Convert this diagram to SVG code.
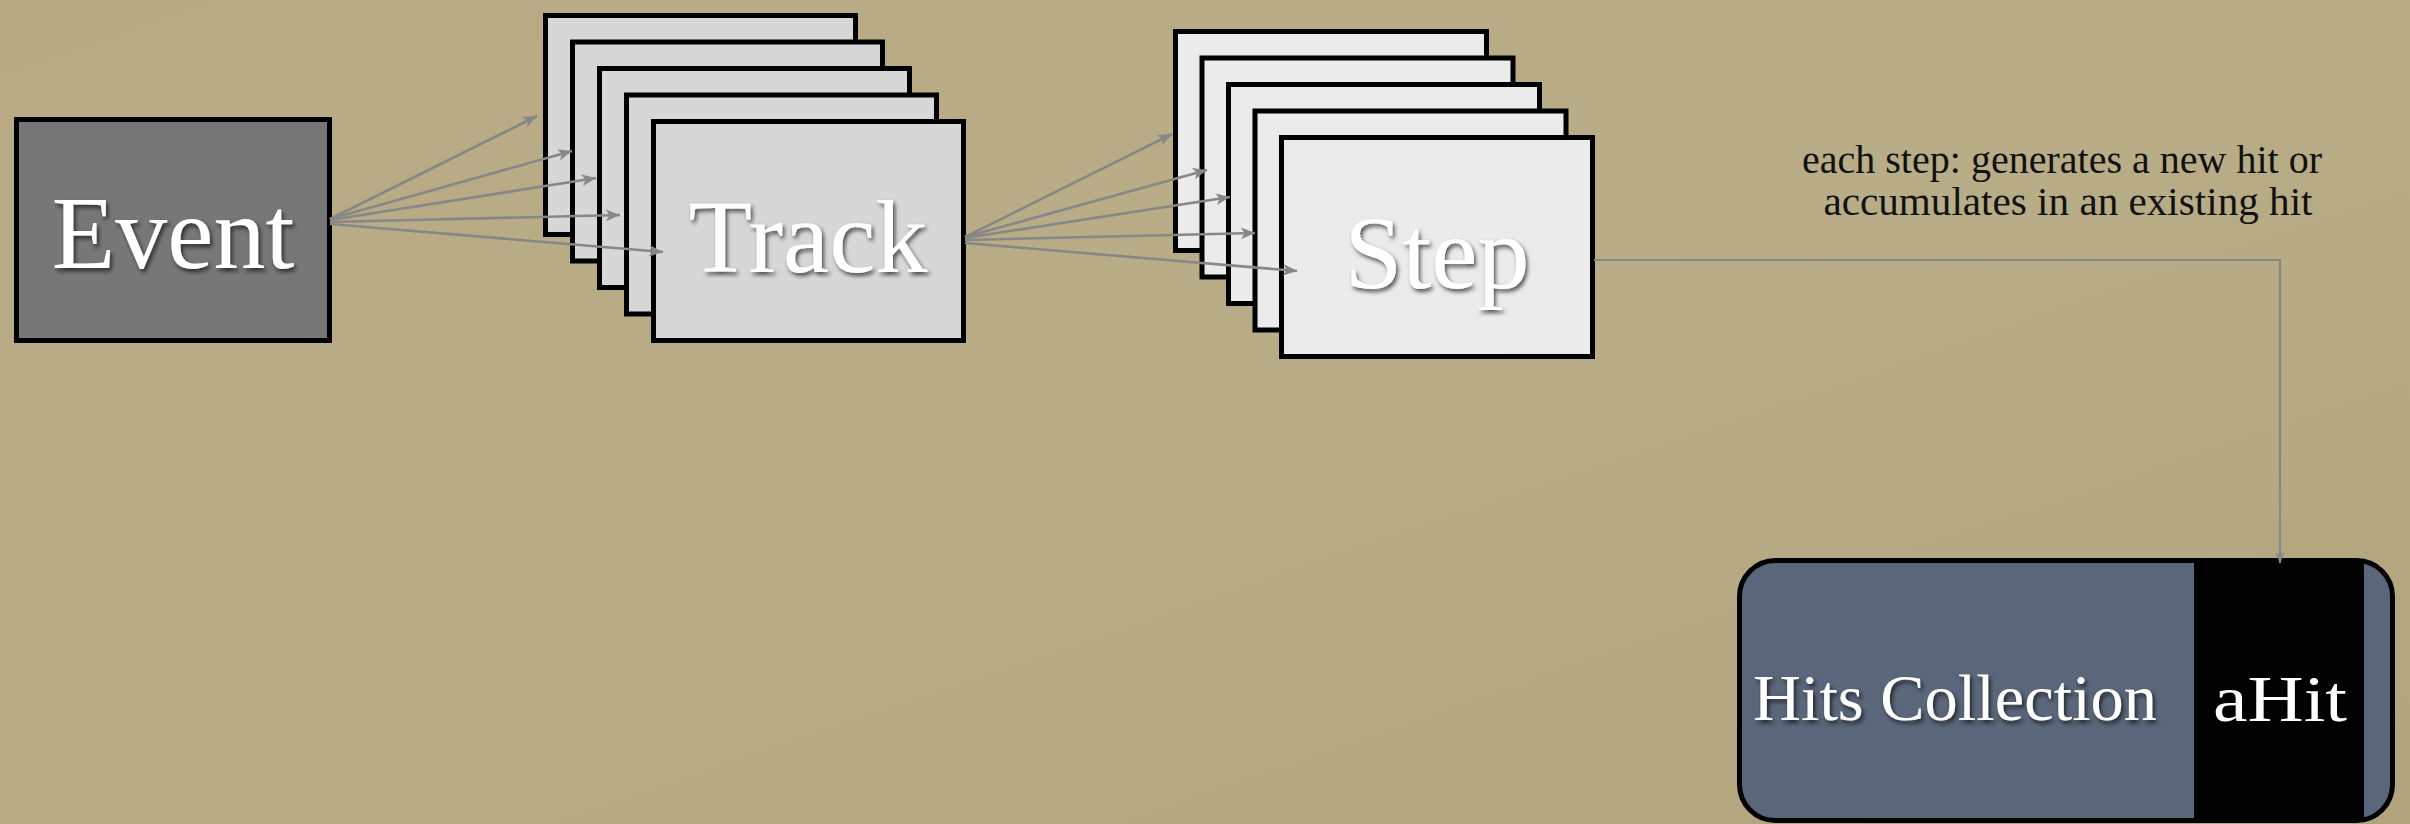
<svg xmlns="http://www.w3.org/2000/svg" width="2410" height="824" viewBox="0 0 2410 824">
  <defs>
    <linearGradient id="bg" x1="0" y1="0" x2="1" y2="1">
      <stop offset="0" stop-color="#b7aa84"/>
      <stop offset="0.5" stop-color="#b9ad87"/>
      <stop offset="1" stop-color="#b1a47d"/>
    </linearGradient>
    <filter id="tshadow" x="-10%" y="-20%" width="130%" height="150%">
      <feDropShadow dx="2" dy="3" stdDeviation="2" flood-color="#000" flood-opacity="0.65"/>
    </filter>
    <marker id="arr" viewBox="0 0 12 10" refX="12" refY="5" markerWidth="14" markerHeight="12" markerUnits="userSpaceOnUse" orient="auto">
      <path d="M0,0 L12,5 L0,10 L3,5 z" fill="#878787"/>
    </marker>
    <marker id="arr2" viewBox="0 0 12 10" refX="12" refY="5" markerWidth="11" markerHeight="9" markerUnits="userSpaceOnUse" orient="auto">
      <path d="M0,0 L12,5 L0,10 L3,5 z" fill="#878787"/>
    </marker>
  </defs>
  <style>
    .box { stroke: #000; stroke-width: 5; }
    .ev { fill: #777777; }
    .tr { fill: #d7d7d7; }
    .st { fill: #ebebeb; }
    .big { font-family: "Liberation Serif", "DejaVu Serif", serif; font-size: 104px; fill: #fff; text-anchor: middle; filter: url(#tshadow); }
    .mid { font-family: "Liberation Serif", "DejaVu Serif", serif; font-size: 66px; fill: #fff; text-anchor: middle; }
    .note { font-family: "Liberation Serif", "DejaVu Serif", serif; font-size: 40px; fill: #111; text-anchor: middle; }
    .link { fill: none; stroke: #878787; stroke-width: 2.6; }
    .link2 { fill: none; stroke: #878787; stroke-width: 2.2; }
  </style>

  <rect x="0" y="0" width="2410" height="824" fill="url(#bg)"/>

  <g id="event">
    <rect class="box ev" x="16.5" y="119.5" width="313" height="221"/>
    <text class="big" x="173" y="268">Event</text>
  </g>

  <g id="track-stack">
    <rect class="box tr" x="545.5" y="15.5" width="310" height="219"/>
    <rect class="box tr" x="572.5" y="42" width="310" height="219"/>
    <rect class="box tr" x="599.5" y="68.5" width="310" height="219"/>
    <rect class="box tr" x="626.5" y="95" width="310" height="219"/>
    <rect class="box tr" x="653.5" y="121.5" width="310" height="219"/>
    <text class="big" x="808" y="272">Track</text>
  </g>

  <g id="step-stack">
    <rect class="box st" x="1175.5" y="31.5" width="311" height="219"/>
    <rect class="box st" x="1202" y="58" width="311" height="219"/>
    <rect class="box st" x="1228.5" y="84.5" width="311" height="219"/>
    <rect class="box st" x="1255" y="111" width="311" height="219"/>
    <rect class="box st" x="1281.5" y="137.5" width="311" height="219"/>
    <text class="big" x="1437" y="288">Step</text>
  </g>

  <g id="note">
    <text class="note" x="2062" y="173" textLength="520" lengthAdjust="spacingAndGlyphs">each step: generates a new hit or</text>
    <text class="note" x="2068" y="215" textLength="489" lengthAdjust="spacingAndGlyphs">accumulates in an existing hit</text>
  </g>

  <g id="hits-collection">
    <rect x="1739.5" y="560.5" width="653" height="260" rx="36" fill="#5a6679"/>
    <rect x="2194" y="560" width="170" height="261" fill="#000"/>
    <rect x="1739.5" y="560.5" width="653" height="260" rx="36" fill="none" stroke="#000" stroke-width="5"/>
    <text class="mid" x="1955" y="720" textLength="404" lengthAdjust="spacingAndGlyphs" filter="url(#tshadow)">Hits Collection</text>
    <text class="mid" x="2280" y="721" textLength="134" lengthAdjust="spacingAndGlyphs">aHit</text>
  </g>

  <g id="connectors">
    <line class="link" x1="330" y1="219" x2="537" y2="116" marker-end="url(#arr)"/>
    <line class="link" x1="330" y1="219" x2="572" y2="151" marker-end="url(#arr)"/>
    <line class="link" x1="330" y1="220" x2="596" y2="178" marker-end="url(#arr)"/>
    <line class="link" x1="330" y1="222" x2="620" y2="215" marker-end="url(#arr)"/>
    <line class="link" x1="330" y1="224" x2="663" y2="252" marker-end="url(#arr)"/>

    <line class="link" x1="965" y1="237" x2="1172" y2="134" marker-end="url(#arr)"/>
    <line class="link" x1="965" y1="237" x2="1207" y2="170" marker-end="url(#arr)"/>
    <line class="link" x1="965" y1="238" x2="1230" y2="197" marker-end="url(#arr)"/>
    <line class="link" x1="965" y1="240" x2="1255" y2="233" marker-end="url(#arr)"/>
    <line class="link" x1="965" y1="243" x2="1297" y2="271" marker-end="url(#arr)"/>

    <polyline class="link2" points="1594,260 2280,260 2280,563" marker-end="url(#arr2)"/>
  </g>
</svg>
